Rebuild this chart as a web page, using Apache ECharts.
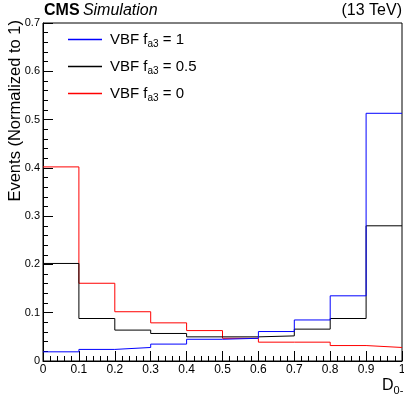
<!DOCTYPE html>
<html>
<head>
<meta charset="utf-8">
<script src="https://cdn.jsdelivr.net/npm/echarts@6/dist/echarts.min.js"></script>
<style>
  html, body { margin: 0; padding: 0; background: #fff; }
  #chart { width: 404px; height: 398px; }
</style>
</head>
<body>
<div id="chart"></div>
<script>
// bin edges of D_0- and normalized event fractions per bin
const binEdges = [0, 0.1, 0.2, 0.3, 0.4, 0.5, 0.6, 0.7, 0.8, 0.9, 1.0];
const fa3One = [0.019, 0.024, 0.028, 0.035, 0.045, 0.047, 0.061, 0.085, 0.135, 0.513];
const fa3Half = [0.202, 0.088, 0.064, 0.057, 0.050, 0.050, 0.052, 0.066, 0.088, 0.280];
const fa3Zero = [0.402, 0.161, 0.102, 0.079, 0.063, 0.047, 0.039, 0.039, 0.032, 0.028];
const seriesNames = ["VBF f_a3 = 1", "VBF f_a3 = 0.5", "VBF f_a3 = 0"];
const legendLabels = {
  "VBF f_a3 = 1": "{p|VBF f}{s|a3}{t| = 1}",
  "VBF f_a3 = 0.5": "{p|VBF f}{s|a3}{t| = 0.5}",
  "VBF f_a3 = 0": "{p|VBF f}{s|a3}{t| = 0}",
};

// histogram as step line: one point per bin low edge, plus closing point at the last edge
function histPoints(values) {
  const pts = values.map((v, i) => [binEdges[i], v]);
  pts.push([binEdges[binEdges.length - 1], values[values.length - 1]]);
  return pts;
}

const font = "Liberation Sans, Arial, Helvetica, sans-serif";
const chart = echarts.init(document.getElementById("chart"));

function hist(name, values, color) {
  return {
    name, type: "line", step: "end", data: histPoints(values),
    showSymbol: false, symbol: "none", animation: false,
    lineStyle: { color, width: 1 }, itemStyle: { color },
  };
}

chart.setOption({
  animation: false,
  grid: {
    left: 43, right: 2, top: 23, bottom: 37, containLabel: false, outerBoundsMode: "none",
    show: true, borderColor: "#000", borderWidth: 1,
  },
  legend: {
    data: seriesNames, orient: "vertical", left: 63, top: 27, itemGap: 10,
    icon: "rect", itemWidth: 34, itemHeight: 1.5,
    formatter: (name) => legendLabels[name],
    textStyle: {
      rich: {
        p: { fontFamily: font, fontSize: 15, color: "#000", padding: [0, 0, 0, 3] },
        t: { fontFamily: font, fontSize: 15, color: "#000" },
        s: { fontFamily: font, fontSize: 10, color: "#000", padding: [9, 0, 0, 0] },
      },
    },
  },
  xAxis: {
    type: "value", min: 0, max: 1, interval: 0.1,
    axisLine: { onZero: false, lineStyle: { color: "#000", width: 1 } },
    axisTick: { inside: true, length: 10, lineStyle: { color: "#000" } },
    minorTick: { show: true, splitNumber: 5, length: 5, lineStyle: { color: "#000" } },
    splitLine: { show: false },
    axisLabel: { fontFamily: font, fontSize: 12, color: "#000", margin: 3, formatter: (v) => String(+v.toFixed(1)) },
  },
  yAxis: {
    type: "value", min: 0, max: 0.7, interval: 0.1,
    axisLine: { show: true, lineStyle: { color: "#000", width: 1 } },
    axisTick: { inside: true, length: 10, lineStyle: { color: "#000" } },
    minorTick: { show: true, splitNumber: 5, length: 5, lineStyle: { color: "#000" } },
    splitLine: { show: false },
    axisLabel: { fontFamily: font, fontSize: 11, color: "#000", margin: 3, formatter: (v) => String(+v.toFixed(1)) },
  },
  graphic: [
    { type: "text", x: 15, y: 20, rotation: Math.PI / 2, style: {
      text: "Events (Normalized to 1)", font: "16.5px " + font, fill: "#000", align: "right", verticalAlign: "middle",
    } },
    { type: "text", left: 44, top: 3, style: { text: "{b|CMS} {i|Simulation}", rich: {
      b: { fontFamily: font, fontSize: 16, fontWeight: "bold", fill: "#000" },
      i: { fontFamily: font, fontSize: 16, fontStyle: "italic", fill: "#000" },
    } } },
    { type: "text", right: 2, top: 3, style: { text: "(13 TeV)", font: "16px " + font, fill: "#000" } },
    { type: "text", left: 382, top: 378, style: { text: "{d|D}{s|0-}", rich: {
      d: { fontFamily: font, fontSize: 16, fill: "#000" },
      s: { fontFamily: font, fontSize: 11, fill: "#000", padding: [9, 0, 0, 0] },
    } } },
  ],
  series: [
    hist(seriesNames[2], fa3Zero, "#ff0000"),
    hist(seriesNames[1], fa3Half, "#000000"),
    hist(seriesNames[0], fa3One, "#0000ff"),
  ],
});
</script>
</body>
</html>
